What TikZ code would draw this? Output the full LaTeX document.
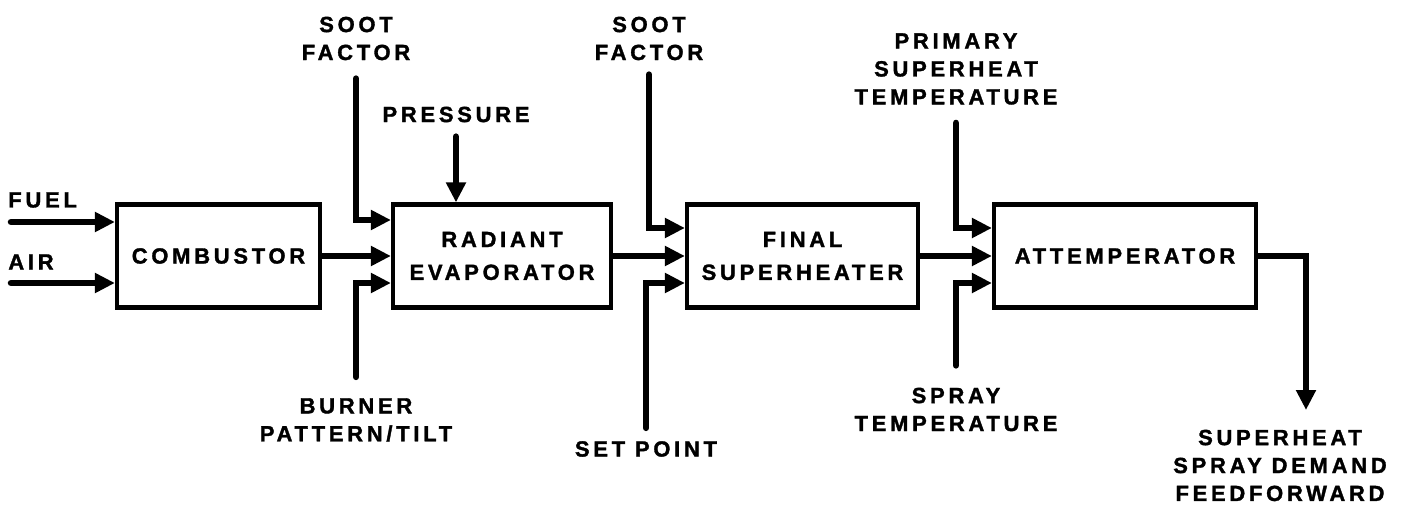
\documentclass[tikz,border=0pt]{standalone}
\usepackage{fontspec}
\usepackage{tikz}
\usetikzlibrary{arrows.meta,positioning,calc}
\newfontfamily\diagfont[LetterSpace=17,FakeBold=1.5]{Liberation Sans Bold}
\definecolor{ink}{HTML}{000000}
\definecolor{paper}{HTML}{FFFFFF}
\tikzset{
  unit/.style={draw=ink, fill=paper, line width=2.4pt, align=center, inner sep=0pt,
               font=\diagfont\fontsize{12.5}{18.7}\selectfont},
  flow/.style={-{Triangle[length=0.4cm,width=0.38cm]}, line width=3.7pt, draw=ink,
               line cap=round},
  tag/.style={align=center, inner sep=0pt, text=ink,
              font=\diagfont\fontsize{12.5}{15.9}\selectfont}
}
\begin{document}
\begin{tikzpicture}[x=0.02cm,y=-0.02cm]
  \useasboundingbox (0,0) rectangle (1407,510);
  \node[unit,minimum width=4.06cm,minimum height=2.06cm] (comb) at (218.5,256) {COMBUSTOR};
  \node[unit,minimum width=4.36cm,minimum height=2.06cm] (rad) at (502,256) {RADIANT\\EVAPORATOR};
  \node[unit,minimum width=4.62cm,minimum height=2.06cm] (fin) at (802.5,256) {FINAL\\SUPERHEATER};
  \node[unit,minimum width=5.24cm,minimum height=2.06cm] (att) at (1125,256) {ATTEMPERATOR};
  \node[tag,anchor=west] (fuel) at (8,200) {FUEL};
  \node[tag,anchor=west] (air) at (8,262) {AIR};
  \coordinate (fuelin) at (11,222);
  \coordinate (airin) at (11,283);
  \draw[flow] (fuelin) -- (fuelin -| comb.west);
  \draw[flow] (airin) -- (airin -| comb.west);
  \draw[flow] (comb.east) -- (rad.west);
  \node[tag] (soot1) at (356,38.5) {SOOT\\FACTOR};
  \node[tag] (pres) at (456,114.5) {PRESSURE};
  \node[tag] (burner) at (356,420) {BURNER\\PATTERN/TILT};
  \draw[flow,shorten <=0.36cm] (soot1.south) |- ($(rad.west)+(0,-36)$);
  \draw[flow,shorten <=0.28cm] (pres.south) -- (pres.south |- rad.north);
  \draw[flow,shorten <=0.42cm] (burner.north) |- ($(rad.west)+(0,27)$);
  \draw[flow] (rad.east) -- (fin.west);
  \node[tag] (soot2) at (649,38.5) {SOOT\\FACTOR};
  \node[tag] (setpt) at (646,449) {SET POINT};
  \draw[flow,shorten <=0.28cm] (soot2.south) |- ($(fin.west)+(0,-28)$);
  \draw[flow,shorten <=0.26cm] (setpt.north) |- ($(fin.west)+(0,27)$);
  \draw[flow] (fin.east) -- (att.west);
  \node[tag] (prim) at (956,69) {PRIMARY\\SUPERHEAT\\TEMPERATURE};
  \node[tag] (spray) at (956,409.5) {SPRAY\\TEMPERATURE};
  \draw[flow,shorten <=0.36cm] (prim.south) |- ($(att.west)+(0,-28)$);
  \draw[flow,shorten <=0.44cm] (spray.north) |- ($(att.west)+(0,27)$);
  \coordinate (demand) at (1306,410);
  \draw[flow] (att.east) -| (demand);
  \node[tag] (ffwd) at (1280,465.5) {SUPERHEAT\\SPRAY DEMAND\\FEEDFORWARD};
\end{tikzpicture}
\end{document}
